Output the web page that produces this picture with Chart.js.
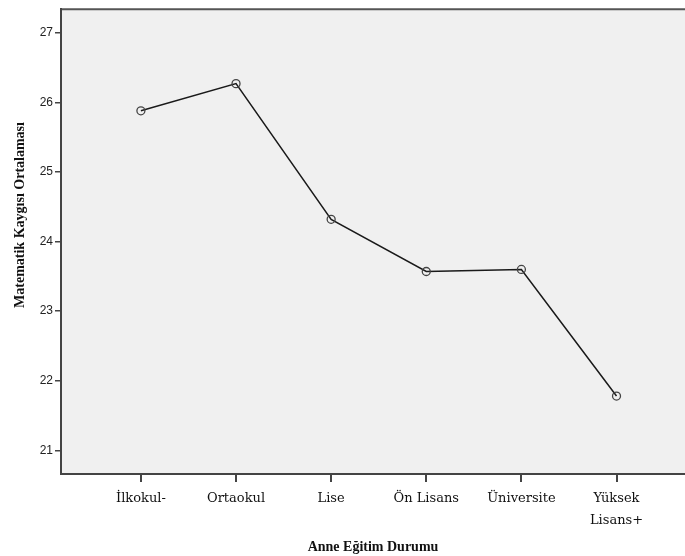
<!DOCTYPE html>
<html>
<head>
<meta charset="utf-8">
<script src="https://cdn.jsdelivr.net/npm/chart.js@4/dist/chart.umd.min.js"></script>
<style>
  html, body { margin: 0; padding: 0; background: #ffffff; }
  #wrap { width: 685px; height: 556px; }
</style>
</head>
<body>
<div id="wrap"><canvas id="grafico"></canvas></div>
<script>
// categorias del eje x y medias
const categorias = ['İlkokul-', 'Ortaokul', 'Lise', 'Ön Lisans', 'Üniversite', ['Yüksek', 'Lisans+']];
const medias = [25.88, 26.27, 24.32, 23.57, 23.60, 21.78];
const ticksY = [21, 22, 23, 24, 25, 26, 27];
const tituloY = 'Matematik Kaygısı Ortalaması';

// fondo gris del area del grafico, linea superior y titulo del eje y
const fondoArea = {
    id: 'fondoArea',
    beforeDraw(chart) {
        const { ctx, chartArea } = chart;
        ctx.save();
        ctx.fillStyle = '#f0f0f0';
        ctx.fillRect(chartArea.left, chartArea.top, chartArea.right - chartArea.left, chartArea.bottom - chartArea.top);
        ctx.strokeStyle = '#555';
        ctx.lineWidth = 2;
        ctx.beginPath();
        ctx.moveTo(chartArea.left, chartArea.top);
        ctx.lineTo(chartArea.right, chartArea.top);
        ctx.stroke();
        ctx.restore();
    },
    afterDraw(chart) {
        const ctx = chart.ctx;
        ctx.save();
        ctx.translate(20, 215);
        ctx.rotate(-Math.PI / 2);
        ctx.fillStyle = '#111';
        ctx.font = 'bold 14px "Liberation Serif", serif';
        ctx.textAlign = 'center';
        ctx.textBaseline = 'middle';
        ctx.fillText(tituloY, 0, 0);
        ctx.restore();
    }
};

new Chart(document.getElementById('grafico'), {
    type: 'line',
    data: {
        datasets: [{
            data: medias.map((v, i) => ({ x: i, y: v })),
            borderColor: '#1a1a1a',
            borderWidth: 1.5,
            pointRadius: 4,
            pointBorderWidth: 1.3,
            pointBorderColor: '#444',
            pointBackgroundColor: 'rgba(0,0,0,0)',
            tension: 0,
            fill: false
        }]
    },
    options: {
        responsive: true,
        maintainAspectRatio: false,
        animation: false,
        layout: { autoPadding: false, padding: { top: 9, right: 0, left: 0, bottom: 0 } },
        plugins: {
            legend: { display: false },
            tooltip: { enabled: false }
        },
        scales: {
            x: {
                type: 'linear',
                min: -0.84,
                max: 5.72,
                afterBuildTicks: (axis) => { axis.ticks = categorias.map((c, i) => ({ value: i })); },
                afterFit: (axis) => { axis.height = 82; },
                ticks: {
                    callback: (v) => categorias[v],
                    color: '#111',
                    font: { family: '"DejaVu Serif", serif', size: 13, lineHeight: 1.65 },
                    maxRotation: 0,
                    autoSkip: false,
                    padding: 6
                },
                grid: { display: true, drawOnChartArea: false, drawTicks: true, tickLength: 8, color: '#444', lineWidth: 2 },
                border: { display: true, color: '#444', width: 2 },
                title: {
                    display: true,
                    text: 'Anne Eğitim Durumu',
                    color: '#111',
                    font: { family: '"Liberation Serif", serif', size: 14, weight: 'bold' },
                    padding: { top: 10, bottom: 0 }
                }
            },
            y: {
                min: 20.66,
                max: 27.34,
                afterBuildTicks: (axis) => { axis.ticks = ticksY.map(v => ({ value: v })); },
                afterFit: (axis) => { axis.width = 61; },
                ticks: {
                    color: '#222',
                    font: { family: '"Liberation Sans", sans-serif', size: 12 },
                    padding: 2
                },
                grid: { display: true, drawOnChartArea: false, drawTicks: true, tickLength: 6, color: '#444', lineWidth: 1.5 },
                border: { display: true, color: '#444', width: 2 }
            }
        }
    },
    plugins: [fondoArea]
});
</script>
</body>
</html>
